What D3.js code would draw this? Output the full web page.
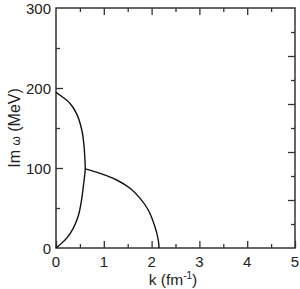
<!DOCTYPE html>
<html><head><meta charset="utf-8">
<script src="https://cdn.jsdelivr.net/npm/d3@7"></script>
<style>
html,body{margin:0;padding:0;background:#fff;}
text{font-family:"Liberation Sans",Arial,sans-serif;fill:#222;}
</style></head>
<body><svg id="c" width="300" height="289"></svg>
<script>
// Data
const branchAK = [0, 0.22, 0.36, 0.47, 0.54, 0.575, 0.612, 0.603, 0.588, 0.54, 0.43, 0.29, 0.084, 0];
const branchAW = [0, 12, 24.6, 41, 62, 78.7, 99, 112, 126.6, 147.5, 168, 181, 191, 194.5];
const branchBK = [0.612, 0.92, 1.27, 1.55, 1.76, 1.93, 2.07, 2.14, 2.155];
const branchBW = [99, 93.3, 85, 74.6, 62, 47.5, 26.6, 10, 0];
const xTicks = [0, 1, 2, 3, 4, 5];
const yTicks = [0, 100, 200, 300];
const xLabel = "k (fm";
const yLabel = ["Im ", "ω", " (MeV)"];

const svg = d3.select("#c");
const L = 56, R = 295, T = 8, B = 248;
const x = d3.scaleLinear().domain([0, 5]).range([L, R]);
const y = d3.scaleLinear().domain([0, 300]).range([B, T]);
const axC = "#333", axW = 1.5;

function tickG(axis, tx, ty) {
  const g = svg.append("g").attr("transform", `translate(${tx},${ty})`).call(axis);
  g.select(".domain").remove();
  g.selectAll("line").attr("stroke", axC).attr("stroke-width", 1.3);
  g.selectAll("text").remove();
  return g;
}
// bottom & top
tickG(d3.axisTop(x).tickValues(d3.range(0, 5.01, 1)).tickSize(7), 0, B);
tickG(d3.axisTop(x).tickValues(d3.range(0.5, 5, 1)).tickSize(4), 0, B);
tickG(d3.axisBottom(x).tickValues(d3.range(1, 5, 1)).tickSize(7), 0, T);
tickG(d3.axisBottom(x).tickValues(d3.range(0.5, 5, 1)).tickSize(4), 0, T);
// left
tickG(d3.axisRight(y).tickValues([100, 200]).tickSize(7), L, 0);
tickG(d3.axisRight(y).tickValues([50, 150, 250]).tickSize(4), L, 0);
// right (secondary scale)
tickG(d3.axisLeft(y).tickValues([60, 120, 180, 240]).tickSize(7), R, 0);
tickG(d3.axisLeft(y).tickValues([30, 90, 150, 210, 270]).tickSize(4), R, 0);

svg.append("rect").attr("x", L).attr("y", T).attr("width", R - L).attr("height", B - T)
  .attr("fill", "none").attr("stroke", axC).attr("stroke-width", axW);

// tick labels
svg.selectAll(".xl").data(xTicks).enter().append("text")
  .attr("x", d => x(d)).attr("y", B + 19).attr("text-anchor", "middle")
  .attr("font-size", 15).text(d => d);
svg.selectAll(".yl").data(yTicks).enter().append("text")
  .attr("x", L - 5).attr("y", d => y(d) + 5.5).attr("text-anchor", "end")
  .attr("font-size", 15).text(d => d);

// axis titles
const xt = svg.append("text").attr("x", 173).attr("y", 285).attr("text-anchor", "middle").attr("font-size", 15.5);
xt.append("tspan").text(xLabel);
xt.append("tspan").attr("font-size", 10).attr("dy", -6).text("-1");
xt.append("tspan").attr("dy", 6).text(")");

const yt = svg.append("text").attr("transform", `translate(20,128) rotate(-90)`)
  .attr("text-anchor", "middle").attr("font-size", 16);
yt.append("tspan").text(yLabel[0]);
yt.append("tspan").attr("font-size", 12).text(yLabel[1]);
yt.append("tspan").text(yLabel[2]);

// curves
const line = d3.line().x(d => x(d[0])).y(d => y(d[1])).curve(d3.curveCatmullRom.alpha(0.5));
const a = branchAK.map((k, i) => [k, branchAW[i]]);
const b = branchBK.map((k, i) => [k, branchBW[i]]);
[a, b].forEach(p => svg.append("path").attr("d", line(p)).attr("fill", "none")
  .attr("stroke", "#111").attr("stroke-width", 1.4));
</script></body></html>
